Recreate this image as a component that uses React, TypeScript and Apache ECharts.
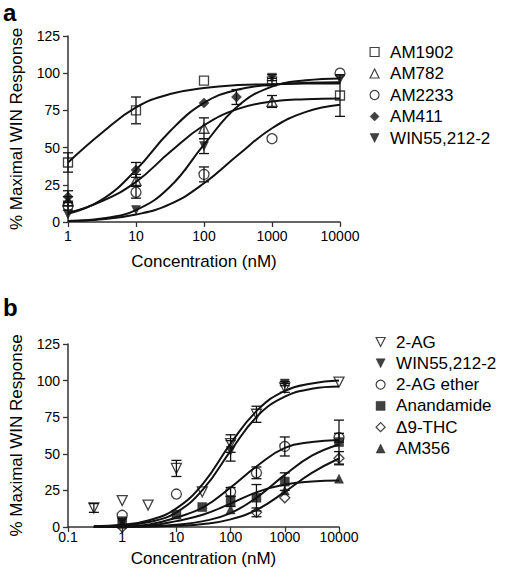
import React, { useEffect, useRef } from "react";
import * as echarts from "echarts";

// ---------- Panel a ----------
const aTicksY = [0, 25, 50, 75, 100, 125];
const aFitX = [1, 3.162, 10, 31.62, 100, 316.2, 1000, 3162, 10000];

const aAM1902X = [1, 10, 100, 1000, 10000];
const aAM1902Y = [40, 75, 95, 94.5, 85];
const aAM1902Err = [6.5, 9, 0, 2, 14];
const aAM1902Fit = [40, 60, 77, 86, 90, 92, 92.6, 93, 93];

const aAM782X = [1, 10, 100, 1000];
const aAM782Y = [14, 28, 63, 81];
const aAM782Err = [3, 4, 7, 4];
const aAM782Fit = [6, 14, 27, 47, 65, 76, 81, 82.5, 83];

const aAM2233X = [1, 10, 100, 1000, 10000];
const aAM2233Y = [11, 20, 32, 56, 100];
const aAM2233Err = [3, 4, 5, 0, 0];
const aAM2233Fit = [0.7, 1.9, 5, 12, 26, 45, 63, 74, 78.8];

const aAM411X = [1, 10, 100, 300];
const aAM411Y = [17, 35, 80, 84];
const aAM411Err = [4, 5, 0, 5];
const aAM411Fit = [5.5, 15, 35, 61, 80, 89, 92.3, 93.5, 94];

const aWINX = [1, 10, 100, 1000, 10000];
const aWINY = [5, 8, 51, 97, 96];
const aWINErr = [0, 0, 5, 2, 0];
const aWINFit = [0.7, 2.4, 8, 23.7, 52, 78, 91, 95.2, 96.5];

// ---------- Panel b ----------
const bFitX = [0.3, 1, 3.16, 10, 31.6, 100, 316, 1000, 3160, 10000];

const b2AGX = [0.3, 1, 3, 10, 30, 100, 300, 1000, 10000];
const b2AGY = [13, 18, 15, 40, 24, 57, 77, 95, 99];
const b2AGErr = [3, 0, 0, 5.5, 0, 6, 5.5, 3, 0];
const b2AGFit = [0.5, 1.6, 4.6, 12.7, 30, 57, 80, 93, 98, 100];

const bWINX = [1, 100, 1000];
const bWINY = [3, 52, 98];
const bWINErr = [0, 7, 1.5];
const bWINFit = [0.4, 1.1, 3.4, 10, 26, 52, 76, 89, 94.4, 96];

const bEtherX = [1, 10, 100, 300, 1000, 10000];
const bEtherY = [8, 22.5, 24, 37, 55, 61];
const bEtherErr = [0, 0, 3, 4, 6.5, 3];
const bEtherFit = [0.2, 0.5, 1.8, 6.5, 13.5, 27, 42, 54, 58, 59.5];

const bAnandX = [1, 10, 30, 100, 300, 1000, 10000];
const bAnandY = [4, 8.5, 13.6, 17.5, 20, 31, 58];
const bAnandErr = [0, 0, 0, 3.5, 9, 6, 15];
const bAnandFit = [0.05, 0.15, 0.5, 1.5, 4, 9.5, 20.6, 35.6, 48.7, 56.4];

const bTHCX = [1, 300, 1000, 10000];
const bTHCY = [0, 10, 20, 47];
const bTHCErr = [0, 3, 0, 4.5];
const bTHCFit = [0.02, 0.1, 0.3, 0.8, 2, 5.2, 12.1, 24, 37, 46.8];

const bAM356X = [1, 100, 1000, 10000];
const bAM356Y = [2, 12, 25, 33];
const bAM356Err = [0, 0, 0, 0];
const bAM356Fit = [0.1, 0.3, 1, 4, 8.5, 16, 24, 29, 31, 31.7];

const FONT = "'Liberation Sans', Arial, Helvetica, sans-serif";
const DOWN_TRI = "path://M0,0L10,0L5,10Z";
const INK = "#111";

type Marker = { symbol: string; filled: boolean; size: number };
const SQUARE_O: Marker = { symbol: "rect", filled: false, size: 9 };
const TRI_UP_O: Marker = { symbol: "triangle", filled: false, size: 10 };
const CIRCLE_O: Marker = { symbol: "circle", filled: false, size: 10 };
const DIAMOND_F: Marker = { symbol: "diamond", filled: true, size: 10 };
const TRI_DOWN_F: Marker = { symbol: DOWN_TRI, filled: true, size: 9 };
const TRI_DOWN_O: Marker = { symbol: DOWN_TRI, filled: false, size: 10 };
const SQUARE_F: Marker = { symbol: "rect", filled: true, size: 9 };
const DIAMOND_O: Marker = { symbol: "diamond", filled: false, size: 10 };
const TRI_UP_F: Marker = { symbol: "triangle", filled: true, size: 9 };

function makeSeries(
  panel: number,
  name: string,
  marker: Marker,
  xs: number[],
  ys: number[],
  errs: number[],
  fitX: number[],
  fitY: number[]
) {
  const fit = {
    type: "line",
    name: "fit-" + panel + "-" + name,
    xAxisIndex: panel,
    yAxisIndex: panel,
    data: fitX.map((x, i) => [x, fitY[i]]),
    smooth: 0.45,
    showSymbol: false,
    symbol: "none",
    lineStyle: { color: INK, width: 2 },
    z: 2,
    silent: true,
  };
  const errData = xs
    .map((x, i) => [x, ys[i] - errs[i], ys[i] + errs[i], errs[i]])
    .filter((d) => d[3] > 0);
  const err = {
    type: "custom",
    name: "err-" + panel + "-" + name,
    xAxisIndex: panel,
    yAxisIndex: panel,
    data: errData,
    encode: { x: 0, y: [1, 2] },
    z: 3,
    silent: true,
    renderItem: (_p: any, api: any) => {
      const x = api.value(0);
      const lo = api.coord([x, api.value(1)]);
      const hi = api.coord([x, api.value(2)]);
      const w = 5;
      const st = { stroke: INK, lineWidth: 1.3 };
      return {
        type: "group",
        children: [
          { type: "line", shape: { x1: hi[0], y1: hi[1], x2: lo[0], y2: lo[1] }, style: st },
          { type: "line", shape: { x1: hi[0] - w, y1: hi[1], x2: hi[0] + w, y2: hi[1] }, style: st },
          { type: "line", shape: { x1: lo[0] - w, y1: lo[1], x2: lo[0] + w, y2: lo[1] }, style: st },
        ],
      };
    },
  };
  const pts = {
    type: "scatter",
    name,
    xAxisIndex: panel,
    yAxisIndex: panel,
    data: xs.map((x, i) => [x, ys[i]]),
    symbol: marker.symbol,
    symbolSize: marker.size,
    itemStyle: {
      color: marker.filled ? INK : "rgba(255,255,255,0)",
      borderColor: INK,
      borderWidth: marker.filled ? 0.5 : 1.3,
    },
    z: 4,
    silent: true,
  };
  return [fit, err, pts];
}

const axisCommon = {
  axisLine: { show: true, lineStyle: { color: "#333", width: 1.5 } },
  axisTick: { show: true, inside: false, length: 5, lineStyle: { color: "#333", width: 1.3 } },
  splitLine: { show: false },
  minorTick: { show: false },
  nameTextStyle: { fontFamily: FONT, fontSize: 17, color: "#000" },
};

function legendItem(name: string, m: Marker) {
  return {
    name,
    icon: m.symbol,
    itemStyle: {
      color: m.filled ? INK : "rgba(255,255,255,0)",
      borderColor: INK,
      borderWidth: m.filled ? 0.5 : 1.2,
    },
  };
}

export default function App() {
  const ref = useRef<HTMLDivElement>(null);
  useEffect(() => {
    if (!ref.current) return;
    const chart = echarts.init(ref.current, undefined, { renderer: "svg" });
    const series = [
      ...makeSeries(0, "AM1902", SQUARE_O, aAM1902X, aAM1902Y, aAM1902Err, aFitX, aAM1902Fit),
      ...makeSeries(0, "AM782", TRI_UP_O, aAM782X, aAM782Y, aAM782Err, aFitX, aAM782Fit),
      ...makeSeries(0, "AM2233", CIRCLE_O, aAM2233X, aAM2233Y, aAM2233Err, aFitX, aAM2233Fit),
      ...makeSeries(0, "AM411", DIAMOND_F, aAM411X, aAM411Y, aAM411Err, aFitX, aAM411Fit),
      ...makeSeries(0, "WIN55,212-2", TRI_DOWN_F, aWINX, aWINY, aWINErr, aFitX, aWINFit),
      ...makeSeries(1, "2-AG", TRI_DOWN_O, b2AGX, b2AGY, b2AGErr, bFitX, b2AGFit),
      ...makeSeries(1, "WIN55,212-2", TRI_DOWN_F, bWINX, bWINY, bWINErr, bFitX, bWINFit),
      ...makeSeries(1, "2-AG ether", CIRCLE_O, bEtherX, bEtherY, bEtherErr, bFitX, bEtherFit),
      ...makeSeries(1, "Anandamide", SQUARE_F, bAnandX, bAnandY, bAnandErr, bFitX, bAnandFit),
      ...makeSeries(1, "Δ9-THC", DIAMOND_O, bTHCX, bTHCY, bTHCErr, bFitX, bTHCFit),
      ...makeSeries(1, "AM356", TRI_UP_F, bAM356X, bAM356Y, bAM356Err, bFitX, bAM356Fit),
    ];
    const legendText = { fontFamily: FONT, fontSize: 17, color: "#000", lineHeight: 17, padding: [0, 0, 0, 6] };
    chart.setOption({
      animation: false,
      backgroundColor: "#fff",
      grid: [
        { left: 61, top: 36, width: 279, height: 186 },
        { left: 61, top: 344, width: 278, height: 183 },
      ],
      xAxis: [
        {
          ...axisCommon,
          type: "log",
          logBase: 10,
          gridIndex: 0,
          min: 1,
          max: 10000,
          name: "Concentration (nM)",
          nameLocation: "middle",
          nameGap: 31,
          axisLabel: { fontFamily: FONT, fontSize: 14, color: "#000", margin: 7, formatter: (v: number) => String(v) },
        },
        {
          ...axisCommon,
          type: "log",
          logBase: 10,
          gridIndex: 1,
          min: 0.1,
          max: 10000,
          name: "Concentration (nM)",
          nameLocation: "middle",
          nameGap: 23,
          axisLabel: { fontFamily: FONT, fontSize: 14, color: "#000", margin: 3, formatter: (v: number) => String(+v.toPrecision(6)) },
        },
      ],
      yAxis: [0, 1].map((g) => ({
        ...axisCommon,
        type: "value",
        gridIndex: g,
        min: aTicksY[0],
        max: aTicksY[aTicksY.length - 1],
        interval: aTicksY[1] - aTicksY[0],
        name: "% Maximal WIN Response",
        nameLocation: "middle",
        nameGap: 43,
        axisLabel: { fontFamily: FONT, fontSize: 14, color: "#000", margin: 8 },
      })),
      legend: [
        {
          orient: "vertical",
          left: 369.5,
          top: 43.5,
          padding: 0,
          itemWidth: 9,
          itemHeight: 9,
          itemGap: 4.5,
          selectedMode: false,
          textStyle: legendText,
          data: [
            legendItem("AM1902", SQUARE_O),
            legendItem("AM782", TRI_UP_O),
            legendItem("AM2233", CIRCLE_O),
            legendItem("AM411", DIAMOND_F),
            legendItem("WIN55,212-2", TRI_DOWN_F),
          ],
        },
        {
          orient: "vertical",
          left: 375.5,
          top: 333.5,
          padding: 0,
          itemWidth: 9,
          itemHeight: 9,
          itemGap: 4.3,
          selectedMode: false,
          textStyle: legendText,
          data: [
            legendItem("2-AG", TRI_DOWN_O),
            legendItem("WIN55,212-2", TRI_DOWN_F),
            legendItem("2-AG ether", CIRCLE_O),
            legendItem("Anandamide", SQUARE_F),
            legendItem("Δ9-THC", DIAMOND_O),
            legendItem("AM356", TRI_UP_F),
          ],
        },
      ],
      graphic: [
        {
          type: "text",
          left: 3,
          top: 0,
          style: { text: "a", fontFamily: FONT, fontSize: 24, fontWeight: "bold", fill: "#000" },
        },
        {
          type: "text",
          left: 3,
          top: 295,
          style: { text: "b", fontFamily: FONT, fontSize: 24, fontWeight: "bold", fill: "#000" },
        },
      ],
      series,
    });
    return () => chart.dispose();
  }, []);
  return (
    <div
      ref={ref}
      style={{ position: "fixed", left: 0, top: 0, width: 506, height: 580, background: "#fff" }}
    />
  );
}
